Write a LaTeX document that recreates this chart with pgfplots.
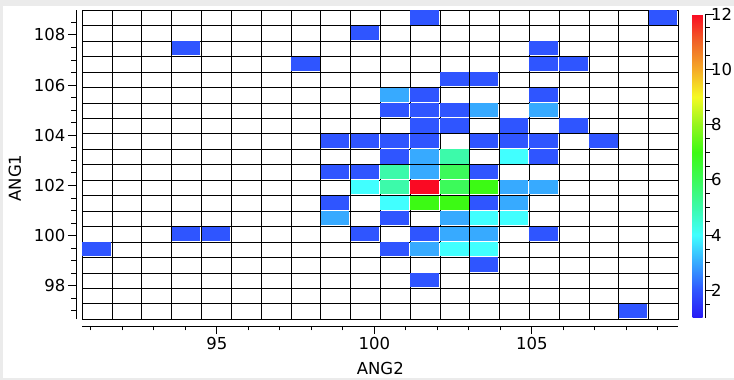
\documentclass[border=0pt]{standalone}
\usepackage{fontspec}
\setmainfont{DejaVu Sans}
\usepackage{pgfplots}
\usepackage{pgfplotstable}
\pgfplotsset{compat=1.18}
\pgfdeclareplotmark{cell}{%
  \pgfpathrectangle{\pgfpoint{-14.9pt}{-6.5pt}}{\pgfpoint{28.6pt}{14.225pt}}%
  \pgfusepathqfill}
\pgfplotstableread{
x y c
101.609 108.672 2
109.177 108.672 2
99.717 108.056 2
94.041 107.440 2
105.393 107.440 2
97.825 106.824 2
105.393 106.824 2
106.339 106.824 2
102.555 106.208 2
103.501 106.208 2
100.663 105.592 3
101.609 105.592 2
105.393 105.592 2
100.663 104.976 2
101.609 104.976 2
102.555 104.976 2
103.501 104.976 3
105.393 104.976 3
101.609 104.360 2
102.555 104.360 2
104.447 104.360 2
106.339 104.360 2
98.771 103.744 2
99.717 103.744 2
100.663 103.744 2
101.609 103.744 2
103.501 103.744 2
104.447 103.744 2
105.393 103.744 2
107.285 103.744 2
100.663 103.128 2
101.609 103.128 3
102.555 103.128 5
104.447 103.128 4
105.393 103.128 2
98.771 102.512 2
99.717 102.512 2
100.663 102.512 5
101.609 102.512 3
102.555 102.512 6
103.501 102.512 2
99.717 101.896 4
100.663 101.896 5
101.609 101.896 12
102.555 101.896 6
103.501 101.896 7
104.447 101.896 3
105.393 101.896 3
98.771 101.280 2
100.663 101.280 4
101.609 101.280 7
102.555 101.280 7
103.501 101.280 2
104.447 101.280 3
98.771 100.664 3
100.663 100.664 2
102.555 100.664 3
103.501 100.664 4
104.447 100.664 4
94.041 100.048 2
94.987 100.048 2
99.717 100.048 2
101.609 100.048 2
102.555 100.048 3
103.501 100.048 3
105.393 100.048 2
91.203 99.432 2
100.663 99.432 2
101.609 99.432 3
102.555 99.432 4
103.501 99.432 4
103.501 98.816 2
101.609 98.200 2
108.231 96.968 2
}\cells
\pgfplotsset{
  colormap={hist}{rgb255(1)=(40,25,245) rgb255(2)=(47,85,255) rgb255(3)=(55,170,255)
    rgb255(4)=(65,255,255) rgb255(5)=(60,250,170) rgb255(6)=(60,250,90)
    rgb255(7)=(60,250,20) rgb255(8)=(150,245,30) rgb255(9)=(245,250,35)
    rgb255(10)=(245,170,40) rgb255(11)=(240,100,40) rgb255(12)=(250,10,35)},
}
\newcommand\lblfont{\fontsize{16.5}{19}\selectfont}
\begin{document}
\begin{tikzpicture}
\useasboundingbox (0,0) rectangle (734pt,380pt);
\fill[black!8] (0,0) rectangle (734pt,380pt);
\fill[white] (3pt,2pt) rectangle (734pt,374pt);
\begin{axis}[
  at={(82.3pt,60.7pt)}, anchor=south west,
  scale only axis, width=596pt, height=309pt,
  xmin=90.73, xmax=109.65, ymin=96.66, ymax=108.98,
  clip=false,
  axis on top,
  axis x line*=bottom, axis y line*=left,
  axis x line shift=6.7pt, axis y line shift=6.3pt,
  axis line style={black, line width=0.8pt},
  tick align=outside,
  major tick length=8pt, minor tick length=4.5pt,
  every tick/.style={black, line width=0.8pt},
  xtick={95,100,105}, minor xtick={91,...,109},
  ytick={98,100,...,108}, minor ytick={97,97.5,...,108.5},
  /pgf/number format/assume math mode=true,
  tick label style={font=\lblfont},
  yticklabel style={xshift=1pt},
  extra x ticks={91.676,92.622,...,108.71},
  extra y ticks={97.276,97.892,...,108.37},
  extra x tick labels={}, extra y tick labels={},
  extra tick style={grid=major, major tick length=0pt, major grid style={black, line width=0.8pt}},
  xlabel={ANG2}, ylabel={ANG1},
  every axis x label/.style={at={(axis description cs:0.5,-0.158)}, anchor=center, font=\lblfont},
  every axis y label/.style={at={(axis description cs:-0.113,0.457)}, anchor=center, rotate=90, font=\lblfont},
  colormap name=hist,
  point meta min=1, point meta max=12,
  colorbar right,
  colorbar style={
    width=10pt, height=304pt,
    at={(parent axis.north east)}, anchor=north west, xshift=5.7pt, yshift=-3.7pt,
    axis x line=none,
    axis y line*=right,
    axis y line shift=3pt,
    axis line style={black, line width=0.8pt},
    ytick={2,4,...,12}, minor ytick={1.5,2,...,12},
    tick align=outside,
    major tick length=8pt, minor tick length=4pt,
    every tick/.style={black, line width=0.8pt},
    /pgf/number format/assume math mode=true,
    yticklabel style={font=\lblfont, xshift=-6pt},
  },
]
\addplot[scatter, only marks, mark=cell, point meta=explicit,
  scatter/use mapped color={draw=none, fill=mapped color}]
  table[x=x, y=y, meta=c] {\cells};
\draw[black, line width=0.8pt] (rel axis cs:0,0) rectangle (rel axis cs:1,1);
\end{axis}
\end{tikzpicture}
\end{document}
